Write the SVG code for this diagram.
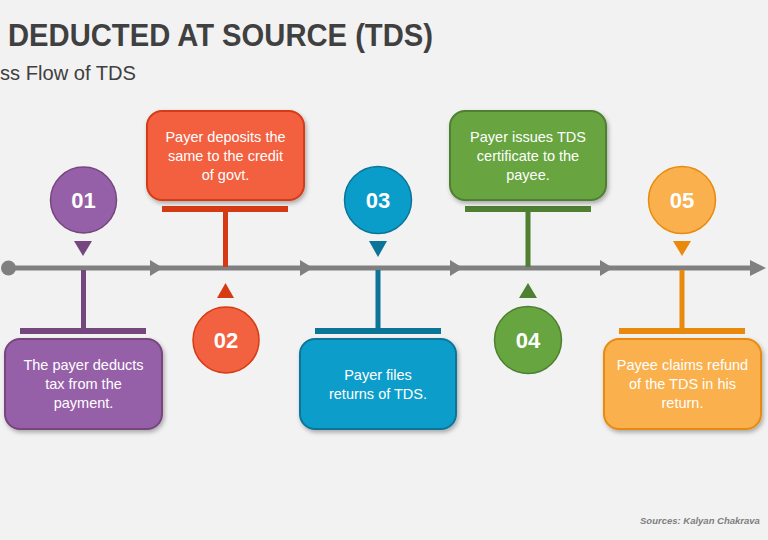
<svg xmlns="http://www.w3.org/2000/svg" width="768" height="540" viewBox="0 0 768 540">
<defs>
<filter id="sh" x="-10%" y="-10%" width="125%" height="130%">
<feDropShadow dx="1.5" dy="2.5" stdDeviation="2" flood-color="#000" flood-opacity="0.3"/>
</filter>
<style>
.t{font-family:"Liberation Sans","Open Sans",Arial,sans-serif;fill:#fff;font-size:14.5px;text-anchor:middle}
.n{font-family:"Liberation Sans","Open Sans",Arial,sans-serif;fill:#fff;font-size:22px;font-weight:bold;text-anchor:middle}
.box{stroke-width:2;filter:url(#sh)}
.circ{stroke-width:1.5}
.p1{fill:#9660a8}.d1{fill:#76467f}.s1{stroke:#76467f}
.p2{fill:#f26140}.d2{fill:#d63a14}.s2{stroke:#d63a14}
.p3{fill:#0a9dca}.d3{fill:#0b7597}.s3{stroke:#0b7597}
.p4{fill:#67a541}.d4{fill:#4f7f31}.s4{stroke:#4f7f31}
.p5{fill:#f9b04d}.d5{fill:#ea8a0d}.s5{stroke:#ea8a0d}
.tl{fill:#808080}
</style>
</defs>
<rect width="768" height="540" fill="#f2f2f2"/>
<text x="8" y="46" font-family="'Liberation Sans',Arial,sans-serif" font-weight="bold" font-size="31" fill="#404040" textLength="425" lengthAdjust="spacingAndGlyphs">DEDUCTED AT SOURCE (TDS)</text>
<text x="0" y="80" font-family="'Liberation Sans',Arial,sans-serif" font-size="20" fill="#404040" textLength="136" lengthAdjust="spacingAndGlyphs">ss Flow of TDS</text>

<g id="connectors">
<rect x="9" y="265.5" width="745" height="5" class="tl"/>
<circle cx="8.5" cy="268" r="7.5" class="tl"/>
<polygon points="150,260 163,268 150,276" class="tl"/>
<polygon points="300,260 313,268 300,276" class="tl"/>
<polygon points="450,260 463,268 450,276" class="tl"/>
<polygon points="600,260 613,268 600,276" class="tl"/>
<polygon points="750,260 766,268 750,276" class="tl"/>
</g>

<g id="step1">
<rect x="81" y="270" width="5" height="60" class="d1"/>
<rect x="20" y="328" width="126" height="6" class="d1"/>
<polygon points="74,241 92,241 83,256" class="d1"/>
<circle cx="83.5" cy="200" r="33" class="p1 s1 circ"/>
<text x="83.5" y="208" class="n">01</text>
<rect x="5" y="339" width="157" height="90" rx="15" class="p1 s1 box"/>
<text class="t" x="83.5" y="370">The payer deducts</text>
<text class="t" x="83.5" y="389">tax from the</text>
<text class="t" x="83.5" y="408">payment.</text>
</g>

<g id="step2">
<rect x="223" y="210" width="5" height="57" class="d2"/>
<rect x="162" y="206" width="126" height="6" class="d2"/>
<polygon points="217,298 234,298 225.5,283" class="d2"/>
<circle cx="226" cy="340" r="33" class="p2 s2 circ"/>
<text x="226" y="348" class="n">02</text>
<rect x="147" y="111" width="157" height="89" rx="15" class="p2 s2 box"/>
<text class="t" x="225.5" y="142">Payer deposits the</text>
<text class="t" x="225.5" y="161">same to the credit</text>
<text class="t" x="225.5" y="180">of govt.</text>
</g>

<g id="step3">
<rect x="375.5" y="270" width="5" height="60" class="d3"/>
<rect x="315" y="328" width="126" height="6" class="d3"/>
<polygon points="369,241 387,241 378,257" class="d3"/>
<circle cx="378" cy="200" r="33.5" class="p3 s3 circ"/>
<text x="378" y="208" class="n">03</text>
<rect x="300" y="339" width="156" height="90" rx="15" class="p3 s3 box"/>
<text class="t" x="378" y="380">Payer files</text>
<text class="t" x="378" y="399">returns of TDS.</text>
</g>

<g id="step4">
<rect x="525.5" y="210" width="5" height="57" class="d4"/>
<rect x="465" y="206" width="126" height="6" class="d4"/>
<polygon points="519,298 537,298 528,283" class="d4"/>
<circle cx="528" cy="340" r="33.5" class="p4 s4 circ"/>
<text x="528" y="348" class="n">04</text>
<rect x="450" y="111" width="156" height="89" rx="15" class="p4 s4 box"/>
<text class="t" x="528" y="142">Payer issues TDS</text>
<text class="t" x="528" y="161">certificate to the</text>
<text class="t" x="528" y="180">payee.</text>
</g>

<g id="step5">
<rect x="679.5" y="270" width="5" height="60" class="d5"/>
<rect x="619" y="328" width="126" height="6" class="d5"/>
<polygon points="673,241 691,241 682,256" class="d5"/>
<circle cx="682" cy="200" r="33.5" class="p5 s5 circ"/>
<text x="682" y="208" class="n">05</text>
<rect x="604" y="339" width="157" height="90" rx="15" class="p5 s5 box"/>
<text class="t" x="682.5" y="370">Payee claims refund</text>
<text class="t" x="682.5" y="389">of the TDS in his</text>
<text class="t" x="682.5" y="408">return.</text>
</g>

<text x="640" y="524" font-family="'Liberation Sans',Arial,sans-serif" font-size="9.5" font-weight="bold" font-style="italic" fill="#7f7f7f">Sources: Kalyan Chakrava</text>
</svg>
